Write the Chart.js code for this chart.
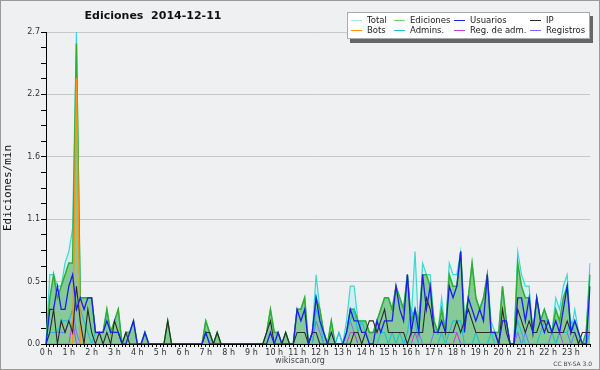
<!DOCTYPE html>
<html>
<head>
<meta charset="utf-8">
<script src="https://cdn.jsdelivr.net/npm/chart.js@4.4.1/dist/chart.umd.min.js"></script>
<style>
  html, body { margin: 0; padding: 0; background: #eff0f1; }
  #wrap { position: relative; width: 600px; height: 370px; }
  #legend {
    position: absolute; left: 347px; top: 12px; width: 241px; height: 25px;
    background: #fff; border: 1px solid #aaa; box-shadow: 3px 4px 0 #666;
    font: 8.5px "DejaVu Sans", sans-serif; color: #222;
  }
  .item { position: absolute; white-space: nowrap; line-height: 10px; }
  .item i { display: inline-block; width: 11px; height: 1px; vertical-align: middle; margin-right: 5px; }
</style>
</head>
<body>
<div id="wrap">
  <canvas id="c" width="600" height="370"></canvas>
  <div id="legend"></div>
</div>
<script>
// 10-minute slots, values in edits per minute
var hourLabels = ["0 h","1 h","2 h","3 h","4 h","5 h","6 h","7 h","8 h","9 h","10 h","11 h",
                  "12 h","13 h","14 h","15 h","16 h","17 h","18 h","19 h","20 h","21 h","22 h","23 h"];
var slotsPerHour = 6;
var yTickLabels = ["0.0","0.5","1.1","1.6","2.2","2.7"];
var yMax = 2.7;
var titleText = "Ediciones  2014-12-11";

var total = [
  0,0.6,0.6,0.5,0.5,0.7,  0.8,1.0,2.7,0.4,0.4,0.4,
  0.4,0.1,0.1,0.1,0.3,0.1,  0.2,0.3,0,0.1,0.1,0.2,
  0,0,0.1,0,0,0,  0,0,0.2,0,0,0,
  0,0,0,0,0,0,  0.2,0.1,0,0.1,0,0,
  0,0,0,0,0,0,  0,0,0,0,0.1,0.3,
  0.1,0.1,0,0.1,0,0,  0.3,0.3,0.4,0,0.1,0.6,
  0.3,0.1,0,0.2,0,0.1,  0,0.2,0.5,0.5,0.2,0.2,
  0.2,0.1,0.1,0.2,0.3,0.4,  0.4,0.3,0.5,0.4,0.3,0.6,
  0.2,0.8,0.1,0.7,0.6,0.6,  0.2,0.1,0.4,0.1,0.7,0.6,
  0.6,0.8,0.2,0.4,0.7,0.4,  0.3,0.4,0.6,0.2,0.1,0.1,
  0.5,0.2,0,0,0.8,0.6,  0.5,0.5,0.1,0.4,0.2,0.3,
  0.2,0.1,0.4,0.3,0.5,0.6,  0.1,0.3,0.1,0,0.1,0.7
];
var ediciones = [
  0,0.4,0.6,0.4,0.5,0.6,  0.7,0.7,2.6,0.4,0.4,0.4,
  0.4,0.1,0.1,0.1,0.3,0.1,  0.2,0.3,0,0.1,0.1,0.2,
  0,0,0.1,0,0,0,  0,0,0.2,0,0,0,
  0,0,0,0,0,0,  0.2,0.1,0,0.1,0,0,
  0,0,0,0,0,0,  0,0,0,0,0.1,0.3,
  0.1,0.1,0,0.1,0,0,  0.3,0.3,0.4,0,0.1,0.4,
  0.3,0.1,0,0.2,0,0,  0,0.1,0.3,0.3,0.2,0.2,
  0.2,0.1,0.1,0.2,0.3,0.4,  0.4,0.3,0.5,0.4,0.3,0.6,
  0.2,0.3,0.2,0.6,0.6,0.5,  0.2,0.1,0.3,0.1,0.6,0.5,
  0.5,0.8,0.2,0.4,0.7,0.4,  0.3,0.4,0.6,0.1,0.1,0.1,
  0.5,0.2,0,0,0.7,0.5,  0.4,0.4,0.1,0.4,0.2,0.3,
  0.2,0.1,0.3,0.2,0.4,0.5,  0.1,0.2,0.1,0,0.1,0.6
];
var usuarios = [
  0,0.3,0.3,0.5,0.3,0.3,  0.5,0.6,0.3,0.4,0.3,0.4,
  0.4,0.1,0.1,0.1,0.2,0.1,  0.1,0.1,0,0,0.1,0.2,
  0,0,0.1,0,0,0,  0,0,0,0,0,0,
  0,0,0,0,0,0,  0.1,0,0,0,0,0,
  0,0,0,0,0,0,  0,0,0,0,0,0.1,
  0,0.1,0,0,0,0,  0.3,0.2,0.3,0,0.1,0.4,
  0.2,0.1,0,0,0,0,  0,0.1,0.3,0.2,0.2,0.1,
  0.1,0,0,0.2,0.1,0.2,  0.2,0.2,0.5,0.3,0.2,0.6,
  0.1,0.3,0.1,0.6,0.3,0.5,  0.1,0.1,0.2,0.1,0.5,0.4,
  0.5,0.8,0.1,0.4,0.3,0.2,  0.3,0.2,0.6,0.1,0.1,0,
  0.2,0.2,0,0,0.4,0.4,  0.2,0.4,0.1,0.4,0.2,0.1,
  0.2,0.1,0.2,0.1,0.3,0.5,  0.1,0.2,0.1,0,0,0.5
];
var ip = [
  0,0.1,0.3,0,0.2,0.1,  0.2,0.1,0.5,0.2,0,0.3,
  0.1,0,0.1,0,0.1,0,  0.2,0.1,0,0.1,0,0,
  0,0,0,0,0,0,  0,0,0.2,0,0,0,
  0,0,0,0,0,0,  0.1,0.1,0,0.1,0,0,
  0,0,0,0,0,0,  0,0,0,0,0.1,0.2,
  0,0,0,0.1,0,0,  0.1,0.1,0.1,0,0.1,0.1,
  0,0,0,0.1,0,0,  0,0,0,0.1,0.1,0,
  0.1,0.2,0.2,0.1,0.2,0.3,  0.1,0.1,0.1,0.1,0.1,0,
  0.1,0.1,0.1,0.1,0.4,0.3,  0.1,0.1,0.1,0.1,0.1,0.1,
  0.2,0.1,0.2,0.3,0.2,0.1,  0.1,0.1,0.1,0.1,0.1,0,
  0.3,0.1,0,0,0.3,0.2,  0.1,0.2,0.1,0.1,0.2,0.2,
  0.1,0.1,0.1,0.1,0.1,0.2,  0.1,0.1,0,0.1,0.1,0.1
];
var bots = [
  0,0,0,0,0,0,  0,0,2.3,0,0,0,
  0,0,0,0,0,0,  0,0,0,0,0,0,
  0,0,0,0,0,0,  0,0,0,0,0,0,
  0,0,0,0,0,0,  0,0,0,0,0,0,
  0,0,0,0,0,0,  0,0,0,0,0,0,
  0,0,0,0,0,0,  0,0,0,0,0,0,
  0,0,0,0,0,0,  0,0,0,0,0,0,
  0,0,0,0,0,0,  0,0,0,0,0,0,
  0,0,0,0,0,0,  0,0,0,0,0,0,
  0,0,0,0,0,0,  0,0,0,0,0,0,
  0,0,0,0,0,0,  0,0,0,0,0,0,
  0,0,0,0,0,0,  0,0,0,0,0,0
];
var admins = [
  0,0.1,0.1,0.1,0.2,0.2,  0.2,0.3,0.3,0.3,0.2,0.1,
  0,0.1,0.1,0,0,0,  0,0,0,0,0,0,
  0,0,0,0,0,0,  0,0,0,0,0,0,
  0,0,0,0,0,0,  0,0,0,0,0,0,
  0,0,0,0,0,0,  0,0,0,0,0,0,
  0,0,0,0,0,0,  0,0,0,0,0,0.3,
  0.2,0,0,0.1,0,0.1,  0,0.1,0.2,0.3,0.1,0.2,
  0.1,0,0,0,0.1,0.1,  0,0.1,0,0.1,0,0.1,
  0.3,0.2,0,0,0,0,  0,0,0.1,0,0.1,0.2,
  0.2,0.2,0,0,0,0.1,  0,0,0,0.1,0,0,
  0,0,0,0,0.2,0.1,  0,0,0,0,0.1,0.2,
  0.2,0.1,0,0.1,0.1,0.1,  0.2,0.1,0,0,0,0.1
];
var regAdm = [
  0,0,0,0,0,0,  0,0.2,0,0,0,0,
  0,0,0,0,0,0,  0,0,0,0,0,0,
  0,0,0,0,0,0,  0,0,0,0,0,0,
  0,0,0,0,0,0,  0,0,0,0,0,0,
  0,0,0,0,0,0,  0,0,0,0,0,0,
  0,0,0,0,0,0,  0,0,0,0,0,0,
  0,0,0,0,0,0,  0,0,0.1,0.1,0,0,
  0,0,0,0,0,0,  0,0,0,0,0,0,
  0,0.1,0,0,0,0,  0,0,0,0,0,0,
  0.1,0,0,0,0,0,  0,0,0,0,0,0,
  0,0,0,0,0,0,  0,0,0,0,0,0,
  0,0,0,0.1,0,0,  0,0,0,0,0,0
];
var registros = [
  0,0.1,0.1,0.1,0.1,0.1,  0.2,0.3,0.1,0,0,0,
  0,0,0,0,0,0,  0,0,0,0,0,0,
  0,0,0,0,0,0,  0,0,0,0,0,0,
  0,0,0,0,0,0,  0,0,0,0,0,0,
  0,0,0,0,0,0,  0,0,0,0,0,0,
  0,0,0,0,0,0,  0,0,0,0,0,0.2,
  0.1,0,0,0,0,0,  0,0.1,0.2,0.1,0,0,
  0,0,0,0,0,0,  0,0,0,0,0,0,
  0.1,0.1,0.1,0,0,0,  0.1,0.1,0.1,0.1,0.1,0.1,
  0.1,0,0,0,0,0,  0,0,0,0,0,0,
  0,0,0,0,0.1,0,  0.1,0,0,0,0,0,
  0,0.1,0.1,0.1,0.1,0.1,  0,0.1,0,0,0,0.1
];

// one x label per slot, hour name on the first slot of each hour
var slotLabels = [];
hourLabels.forEach(function (h) {
  for (var k = 0; k < slotsPerHour; k++) slotLabels.push(k === 0 ? h : "");
});

var yTicks = [];
for (var k = 0; k <= 20; k++) yTicks.push(yMax * k / 20);

function line(label, data, color, width, order, fill) {
  return {
    label: label, data: data, borderColor: color, borderWidth: width,
    backgroundColor: fill || "transparent", fill: fill ? "origin" : false,
    pointRadius: 0, tension: 0, order: order, legendColor: color
  };
}

var datasets = [
  line("Total", total, "#3fd6d6", 1.2, 8, "rgba(190,238,236,0.6)"),
  line("Ediciones", ediciones, "#2fae2f", 1.5, 7, "rgba(60,165,70,0.5)"),
  line("Usuarios", usuarios, "#1c1cee", 1.3, 1),
  line("IP", ip, "#2a2a2a", 1.1, 2),
  line("Bots", bots, "#ff9010", 1.5, 3),
  line("Admins.", admins, "#1fbfd6", 1.1, 4),
  line("Reg. de adm.", regAdm, "#c040e8", 1, 5),
  line("Registros", registros, "#7272ff", 1, 6)
];
datasets[0].legendColor = "#a8e8e8";
datasets[1].legendColor = "#80d080";

var decor = {
  id: "decor",
  beforeDraw: function (chart) {
    var c = chart.ctx;
    c.save();
    c.fillStyle = "#eff0f1";
    c.fillRect(0, 0, chart.width, chart.height);
    c.restore();
  },
  afterDraw: function (chart) {
    var c = chart.ctx;
    c.save();
    c.fillStyle = "#111";
    c.font = 'bold 11px "DejaVu Sans"';
    c.textAlign = "center";
    c.textBaseline = "middle";
    c.fillText(titleText, 153, 16);
    c.fillStyle = "#444";
    c.font = '8px "DejaVu Sans"';
    c.fillText("wikiscan.org", 300, 361);
    c.font = '6px "DejaVu Sans"';
    c.textAlign = "right";
    c.fillText("CC BY-SA 3.0", 592, 364);
    c.strokeStyle = "#9a9a9a";
    c.lineWidth = 1;
    c.strokeRect(0.5, 0.5, chart.width - 1, chart.height - 1);
    c.restore();
  }
};

new Chart(document.getElementById("c"), {
  type: "line",
  data: { labels: slotLabels, datasets: datasets },
  plugins: [decor],
  options: {
    responsive: false,
    animation: false,
    devicePixelRatio: 1,
    layout: { padding: { top: 32, right: 10, left: 0, bottom: 0 } },
    plugins: { legend: { display: false }, tooltip: { enabled: false } },
    scales: {
      x: {
        type: "category",
        offset: false,
        afterFit: function (s) { s.height = 26; },
        grid: { drawOnChartArea: false, tickLength: 3, tickColor: "#000", offset: false },
        border: { color: "#000", width: 1 },
        ticks: { autoSkip: false, maxRotation: 0, minRotation: 0, padding: 1,
                 color: "#333", font: { family: "DejaVu Sans", size: 8 } }
      },
      y: {
        min: 0, max: yMax,
        afterFit: function (s) { s.width = 46; },
        afterBuildTicks: function (s) {
          s.ticks = yTicks.map(function (v) { return { value: v }; });
        },
        grid: {
          tickLength: 5,
          tickColor: "#000",
          color: function (ctx) { return ctx.index % 4 === 0 && ctx.index > 0 ? "#c8c8c8" : "rgba(0,0,0,0)"; }
        },
        border: { color: "#000", width: 1 },
        ticks: {
          padding: 1, color: "#333", font: { family: "DejaVu Sans", size: 8 },
          callback: function (v, i) { return i % 4 === 0 ? yTickLabels[i / 4] : ""; }
        },
        title: { display: true, text: "Ediciones/min", color: "#111",
                 padding: { top: 2, bottom: 0 },
                 font: { family: "DejaVu Sans Mono", size: 11 } }
      }
    }
  }
});

// legend box: two rows of four
var legend = document.getElementById("legend");
var colX = [3, 46, 106, 182];
datasets.forEach(function (d, i) {
  var el = document.createElement("div");
  el.className = "item";
  el.style.left = colX[i % 4] + "px";
  el.style.top = (i < 4 ? 2 : 12) + "px";
  el.innerHTML = '<i style="background:' + d.legendColor + '"></i>' + d.label;
  legend.appendChild(el);
});
</script>
</body>
</html>
